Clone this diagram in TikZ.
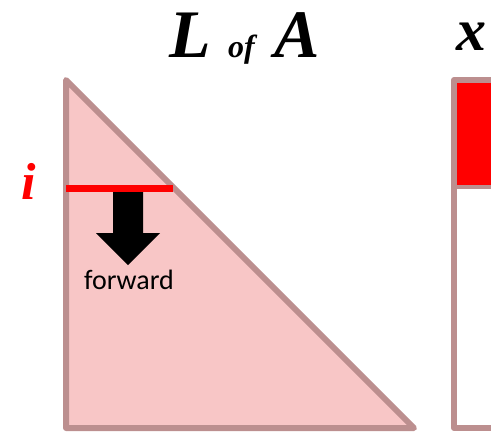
\documentclass[tikz,border=0pt]{standalone}
\usepackage{fontspec}
\setmainfont{Liberation Serif}
\newfontfamily\calib{Carlito}
\definecolor{tri}{RGB}{248,198,198}
\definecolor{edge}{RGB}{188,143,143}
\begin{document}
\begin{tikzpicture}[x=1pt,y=-1pt,
  edgeline/.style={draw=edge,line width=6pt,line join=round},
  titletext/.style={inner sep=0pt,anchor=base west}]
\useasboundingbox (0,0) rectangle (491,432);
% x vector
\fill[red] (455,81) rectangle (495,186);
\draw[edgeline] (495,80) -- (454,80) -- (454,428) -- (495,428);
\draw[draw=edge,line width=4pt] (454,187) -- (495,187);
% triangle
\coordinate (ta) at (66,80);
\coordinate (tb) at (66,428);
\coordinate (tc) at (414,428);
\fill[tri] (ta) -- (tb) -- (tc) -- cycle;
\draw[edgeline] (ta) -- (tb) -- (tc) -- cycle;
% row i
\coordinate (r1) at (66,188);
\coordinate (r2) at (173,188);
\draw[red,line width=7pt] (r1) -- (r2);
% forward arrow
\fill[black] (113,192) -- (143,192) -- (143,233) -- (160,233) -- (128,265) -- (96,233) -- (113,233) -- cycle;
\node[inner sep=0pt,anchor=base,font=\calib\fontsize{28}{28}\selectfont] (fw) at (129,289) {forward};
% labels
\node[titletext,anchor=base,text=red,font=\bfseries\itshape\fontsize{52}{52}\selectfont] (il) at (29,199) {i};
\node[titletext,font=\bfseries\itshape\fontsize{68}{68}\selectfont] (tL) at (169,57) {L};
\node[titletext,font=\bfseries\itshape\fontsize{32}{32}\selectfont] (tof) at (228,57) {of};
\node[titletext,font=\bfseries\itshape\fontsize{68}{68}\selectfont] (tA) at (274,57) {A};
\node[titletext,font=\bfseries\itshape\fontsize{60}{60}\selectfont] (xl) at (456,50) {x};
\end{tikzpicture}
\end{document}
